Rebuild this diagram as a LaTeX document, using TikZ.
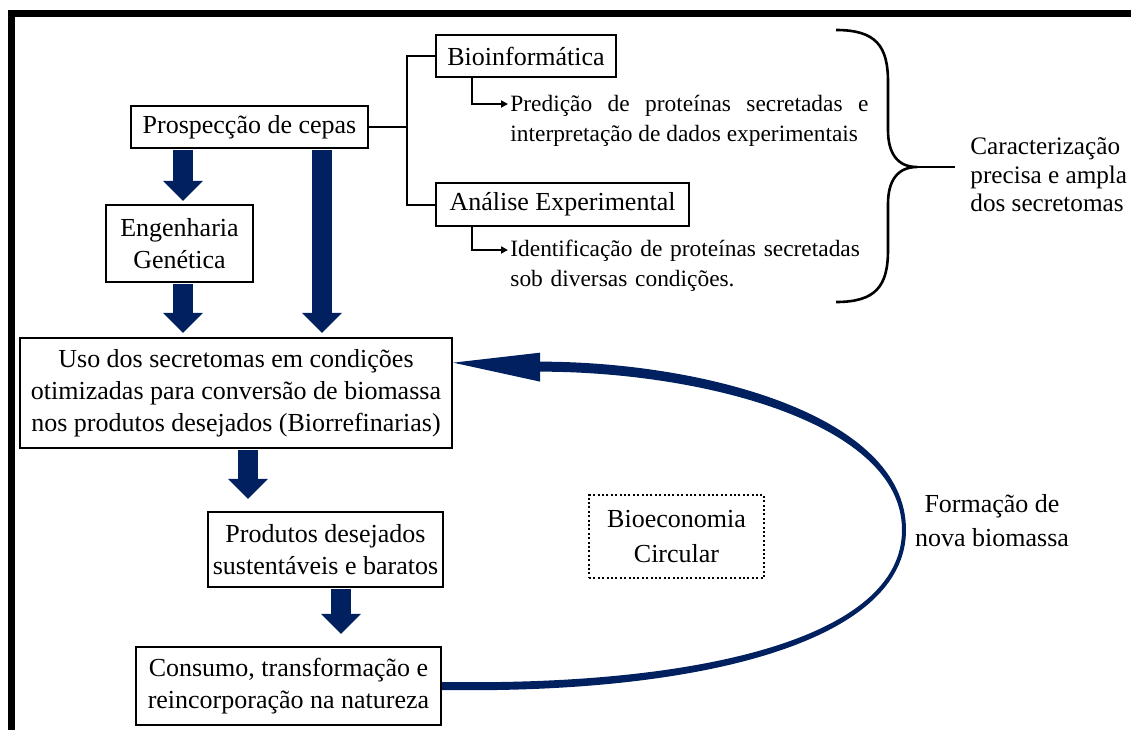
\documentclass[tikz,border=0pt]{standalone}
\usepackage{fontspec}
\setmainfont{Liberation Serif}
\usetikzlibrary{arrows.meta,calc}
\definecolor{navy}{HTML}{002060}

\tikzset{
  box/.style={draw, line width=1.2pt, align=center, inner sep=2pt, font=\fontsize{13}{16}\selectfont},
  bigarrow/.style={navy, line width=10pt, shorten <=0.6pt, -{Triangle[length=10pt,width=20pt,line width=0pt]}},
  conn/.style={line width=1pt},
  tick/.style={conn, -{Triangle[length=3.5pt,width=3.5pt]}},
  note/.style={inner sep=0pt, anchor=north west, text width=179pt, font=\fontsize{11.7}{15}\selectfont},
}

\begin{document}
\begin{tikzpicture}[x=0.5pt, y=-0.5pt]
    \useasboundingbox (0,0) rectangle (1131,729);

    % Frame
    \draw[line width=3.5pt] (11.5,760) -- (11.5,13.5) -- (1160,13.5);

    % Boxes
    \node (pros) at (249.5,127) [box, minimum width=118.5pt, minimum height=21pt] {Prospecção de cepas};
    \node (eng) at (179.5,243.5) [box, minimum width=73.5pt, minimum height=38.5pt] {Engenharia\\Genética};
    \node (bio) at (526,56) [box, minimum width=90pt, minimum height=21pt] {Bioinformática};
    \node (ana) at (562.5,204.5) [box, minimum width=126.5pt, minimum height=21.5pt] {Análise Experimental};
    \node (uso) at (236,393) [box, minimum width=216pt, minimum height=55pt] {Uso dos secretomas em condições\\otimizadas para conversão de biomassa\\nos produtos desejados (Biorrefinarias)};
    \node (prod) at (325.5,549.5) [box, minimum width=117.5pt, minimum height=37.5pt] {Produtos desejados\\sustentáveis e baratos};
    \node (cons) at (288.5,686) [box, minimum width=152.5pt, minimum height=39pt] {Consumo, transformação e\\reincorporação na natureza};
    \node (eco) at (676.5,536.5) [box, line width=1.1pt, dash pattern=on 1pt off 1.2pt, minimum width=87.5pt, minimum height=41.5pt, font=\fontsize{13}{17.5}\selectfont] {Bioeconomia\\Circular};

    % Notes
    \node (pred) at (510,95) [note, align=justify] {Predição de proteínas secretadas e\linebreak interpretação de dados experimentais};
    \node (ident) at (510,239.5) [note, align=left] {Identificação de proteínas secretadas\\sob diversas condições.};
    \node (carac) at (970,175) [anchor=west, inner sep=0pt, align=left, font=\fontsize{12.6}{14.3}\selectfont] {Caracterização\\precisa e ampla\\dos secretomas};
    \node (form) at (992,521) [inner sep=0pt, align=center, font=\fontsize{13}{17}\selectfont] {Formação de\\nova biomassa};

    % Branches
    \draw[conn] (pros.east) -- (pros.east -| 407,0);
    \draw[conn] (bio.west) -| (ana.west -| 407,0) -- (ana.west);
    \coordinate (pred-in) at (508,104);
    \coordinate (ident-in) at (508,250);
    \draw[tick] (bio.south -| 472,0) |- (pred-in);
    \draw[tick] (ana.south -| 472,0) |- (ident-in);

    % Brace
    \draw[line width=1.3pt] (836,30) .. controls (876,30) and (888,46) .. (888,82) -- (888,130)
        .. controls (888,154) and (898,167) .. (917,167)
        .. controls (898,167) and (888,180) .. (888,204) -- (888,250)
        .. controls (888,286) and (876,302) .. (836,302);
    \draw[line width=1.3pt] (917,167) -- (955,167);

    % Block arrows
    \draw[bigarrow, shorten >=1.5pt] (183,0 |- pros.south) -- (183,0 |- eng.north);
    \draw[bigarrow, shorten >=2pt] (322,0 |- pros.south) -- (322,0 |- uso.north);
    \draw[bigarrow, shorten >=2pt] (183,0 |- eng.south) -- (183,0 |- uso.north);
    \draw[bigarrow, shorten >=6pt] (248,0 |- uso.south) -- (248,0 |- prod.north);
    \draw[bigarrow, shorten >=6pt] (341,0 |- prod.south) -- (341,0 |- cons.north);

    % Cycle: tapered band from cons back to uso
    \coordinate (uso-in) at ($(uso.north east)!0.23!(uso.south east)$);
    \coordinate (head-top) at ($(uso-in)+(87,-1)$);
    \coordinate (head-bot) at ($(uso-in)+(87,9)$);
    \fill[navy] ($(cons.east)+(0,4)$) .. controls (700,694) and (906,642) .. (906,530)
        .. controls (906,414) and ($(head-top)+(160,0)$) .. (head-top)
        -- (head-bot) .. controls ($(head-bot)+(160,0)$) and (902,422) .. (902,530)
        .. controls (902,638) and (700,686) .. ($(cons.east)+(0,-4)$) -- cycle;
    \fill[navy] (uso-in) -- ($(uso-in)+(87,-10)$) -- ($(uso-in)+(87,19)$) -- cycle;
\end{tikzpicture}
\end{document}
